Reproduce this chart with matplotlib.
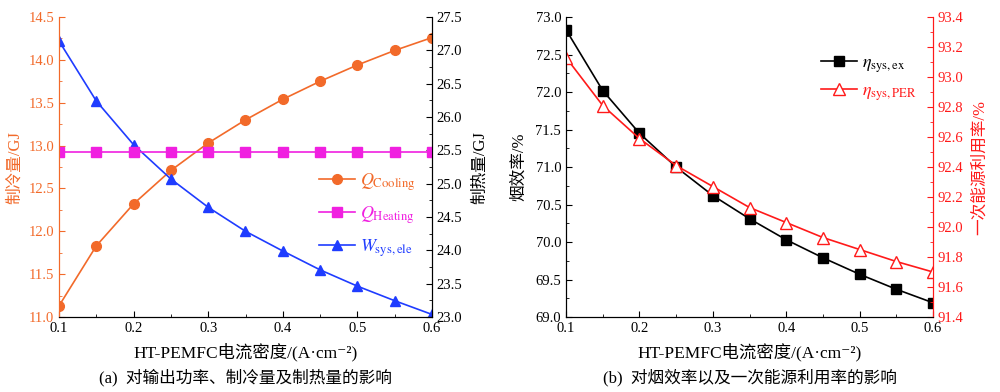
import matplotlib
matplotlib.use('Agg')
import matplotlib.pyplot as plt
from matplotlib.ticker import MultipleLocator

plt.rcParams['font.family'] = ['Liberation Serif', 'Noto Sans CJK SC', 'DejaVu Sans']
plt.rcParams['mathtext.fontset'] = 'stix'
plt.rcParams['axes.unicode_minus'] = False

# current density (A/cm2)
j = [0.1, 0.15, 0.2, 0.25, 0.3, 0.35, 0.4, 0.45, 0.5, 0.55, 0.6]

# (a) cooling, heating, power
q_cooling = [11.13, 11.83, 12.32, 12.71, 13.03, 13.30, 13.54, 13.75, 13.94, 14.11, 14.26]
q_heating = [25.48, 25.48, 25.48, 25.48, 25.48, 25.48, 25.48, 25.48, 25.48, 25.48, 25.48]
w_ele = [14.22, 13.52, 13.01, 12.61, 12.28, 12.00, 11.77, 11.55, 11.36, 11.19, 11.03]

# (b) efficiencies
eta_ex = [72.83, 72.02, 71.45, 71.00, 70.62, 70.31, 70.03, 69.79, 69.57, 69.37, 69.19]
eta_per = [93.13, 92.81, 92.59, 92.41, 92.27, 92.13, 92.03, 91.93, 91.85, 91.77, 91.70]

c_orange = '#f26a2a'
c_mag = '#f020e0'
c_blue = '#1f3cff'
c_red = '#ff1a1a'

xlab = 'HT-PEMFC电流密度/(A·cm⁻²)'

fig = plt.figure(figsize=(10, 3.92), dpi=100)


def style_ax(ax):
    ax.tick_params(direction='in', which='both', labelsize=10.5)
    ax.tick_params(which='major', length=4)
    ax.tick_params(which='minor', length=2)
    ax.spines['top'].set_visible(False)


# ---------- (a) ----------
ax1 = fig.add_axes([0.059, 0.1913, 0.373, 0.7653])
ax2 = ax1.twinx()
l1, = ax1.plot(j, q_cooling, '-o', color=c_orange, ms=7, lw=1.2, label=r'$Q_{\rm Cooling}$')
l3, = ax1.plot(j, w_ele, '-^', color=c_blue, ms=7, lw=1.2, label=r'$W_{\rm sys,ele}$')
l2, = ax2.plot(j, q_heating, '-s', color=c_mag, ms=6.5, lw=1.2, label=r'$Q_{\rm Heating}$')
ax1.set_xlim(0.1, 0.6)
ax1.set_ylim(11.0, 14.5)
ax2.set_ylim(23.0, 27.5)
ax1.xaxis.set_major_locator(MultipleLocator(0.1))
ax1.xaxis.set_minor_locator(MultipleLocator(0.05))
ax1.yaxis.set_major_locator(MultipleLocator(0.5))
ax1.yaxis.set_minor_locator(MultipleLocator(0.25))
ax2.yaxis.set_major_locator(MultipleLocator(0.5))
ax2.yaxis.set_minor_locator(MultipleLocator(0.25))
for a in (ax1, ax2):
    style_ax(a)
ax1.spines['left'].set_color(c_orange)
ax2.spines['left'].set_color(c_orange)
ax1.tick_params(axis='y', colors=c_orange, which='both')
ax1.set_ylabel('制冷量/GJ', color=c_orange, fontsize=12, labelpad=4)
ax2.set_ylabel('制热量/GJ', fontsize=12, labelpad=7)
ax1.set_xlabel(xlab, fontsize=12.5, labelpad=6)
leg = ax1.legend(handles=[l1, l2, l3], loc='center right', bbox_to_anchor=(1.0, 0.34),
                 frameon=False, fontsize=13, handlelength=2.0, handletextpad=0.3, labelspacing=0.62)
for t, c in zip(leg.get_texts(), [c_orange, c_mag, c_blue]):
    t.set_color(c)
fig.text(0.245, 0.025, '(a)  对输出功率、制冷量及制热量的影响', ha='center', fontsize=12)

# ---------- (b) ----------
bx1 = fig.add_axes([0.566, 0.1913, 0.367, 0.7653])
bx2 = bx1.twinx()
m1, = bx1.plot(j, eta_ex, '-s', color='black', ms=7, lw=1.2, label=r'$\eta_{\rm sys,ex}$')
m2, = bx2.plot(j, eta_per, '-^', color=c_red, ms=8, lw=1.2, mfc='white', mec=c_red,
               label=r'$\eta_{\rm sys,PER}$')
bx1.set_xlim(0.1, 0.6)
bx1.set_ylim(69.0, 73.0)
bx2.set_ylim(91.4, 93.4)
bx1.xaxis.set_major_locator(MultipleLocator(0.1))
bx1.xaxis.set_minor_locator(MultipleLocator(0.05))
bx1.yaxis.set_major_locator(MultipleLocator(0.5))
bx1.yaxis.set_minor_locator(MultipleLocator(0.25))
bx2.yaxis.set_major_locator(MultipleLocator(0.2))
bx2.yaxis.set_minor_locator(MultipleLocator(0.1))
for a in (bx1, bx2):
    style_ax(a)
bx2.spines['right'].set_color(c_red)
bx1.spines['right'].set_color(c_red)
bx2.tick_params(axis='y', colors=c_red, which='both')
bx1.set_ylabel('烟效率/%', fontsize=12, labelpad=6)
bx2.set_ylabel('一次能源利用率/%', color=c_red, fontsize=12, labelpad=6)
bx1.set_xlabel(xlab, fontsize=12.5, labelpad=6)
leg2 = bx1.legend(handles=[m1, m2], loc='upper right', bbox_to_anchor=(1.0, 0.93),
                  frameon=False, fontsize=13, handlelength=2.0, handletextpad=0.3, labelspacing=0.45)
for t, c in zip(leg2.get_texts(), ['black', c_red]):
    t.set_color(c)
fig.text(0.75, 0.025, '(b)  对烟效率以及一次能源利用率的影响', ha='center', fontsize=12)

fig.savefig('out.png', dpi=100)
